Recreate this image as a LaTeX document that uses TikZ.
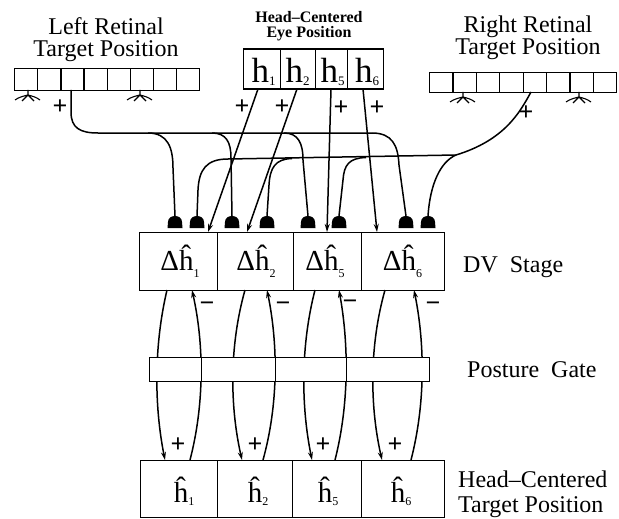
\documentclass[tikz,border=0pt]{standalone}
\usepackage{fontspec}
\setmainfont{Liberation Serif}
\usetikzlibrary{arrows.meta}
\newcommand\lowsub[3]{\raisebox{-#1pt}{\fontsize{#2}{#2}\selectfont #3}}
\tikzset{
  cellbox/.style={draw, line width=1.3pt, inner sep=0pt, anchor=north west},
  wire/.style={line width=1.5pt},
  arr/.style={line width=1.5pt, -{Stealth[length=8pt,width=5pt]}},
  lab/.style={font=\fontsize{24}{22}\selectfont, inner sep=0pt},
  sign/.style={font=\fontsize{26}{26}\selectfont\bfseries, inner sep=0pt},
  term/.pic={\fill (-7.5,13) -- (-7,7) .. controls (-7,-1) and (7,-1) .. (7,7) -- (7.5,13) -- cycle;},
  fan/.pic={\draw[line width=1.1pt] (0,0) -- (0,5)
      (0,5) .. controls (-4,6) and (-9,7) .. (-13,10)
      (0,5) .. controls (-2,7) and (-4,9) .. (-6,11)
      (0,5) .. controls (2,7) and (4,9) .. (6,11)
      (0,5) .. controls (4,6) and (8,7) .. (12,10);}
}
\begin{document}
\begin{tikzpicture}[x=1pt,y=-1pt]
\useasboundingbox (0,0) rectangle (619,519);

% ---------- labels (anchor base = last line) ----------
\node[lab, align=center, anchor=base] (ll) at (106,57) {Left Retinal\\Target Position};
\node[lab, align=center, anchor=base] (rl) at (528,55) {Right Retinal\\Target Position};
\node[font=\fontsize{16}{15.5}\selectfont\bfseries, align=center, anchor=base, inner sep=0pt] (hl) at (309,38) {Head–Centered\\Eye Position};
\node[lab, anchor=base west] (dvl) at (463,272) {DV~~Stage};
\node[lab, anchor=base west] (pgl) at (467,377) {Posture~~Gate};
\node[font=\fontsize{24}{25}\selectfont, align=left, anchor=base west, inner sep=0pt] (hcl) at (458,512) {Head–Centered\\Target Position};

% ---------- retinal arrays ----------
\foreach \i in {0,...,7} {
  \node[cellbox, minimum width=23.125pt, minimum height=22pt] (L\i) at ({14+23.125*\i},68) {};
  \node[cellbox, minimum width=23.375pt, minimum height=20pt] (R\i) at ({429+23.375*\i},72) {};
}
\pic at (28,90) {fan};
\pic at (140,90) {fan};
\pic at (463,92) {fan};
\pic at (579,92) {fan};
\node[sign] (lplus) at (60,107) {+};
\node[sign] (rplus) at (526,113) {+};

% ---------- eye position ----------
\foreach \a/\w/\n/\c/\s in {243/37/e1/263.5/1, 280/35/e2/297.5/2, 315/32/e5/332.5/5, 347/36/e6/367/6} {
  \node[cellbox, minimum width=\w pt, minimum height=40pt] (\n) at (\a,48.5) {};
  \node[font=\fontsize{35}{35}\selectfont, anchor=base, inner sep=0pt] (\n t) at (\c,82) {h\lowsub{3}{13}{\s}};
}

% ---------- DV stage ----------
\foreach \a/\w/\n/\c/\s in {139/78/d1/180/1, 217/76/d2/256/2, 293/68/d5/325/5, 361/83/d6/402.5/6} {
  \node[cellbox, minimum width=\w pt, minimum height=58pt] (\n) at (\a,232) {};
  \node[font=\fontsize{29}{29}\selectfont, anchor=base, inner sep=0pt] (\n t) at (\c,270) {Δĥ\lowsub{7}{12}{\s}};
}

% ---------- bottom: head-centered target ----------
\foreach \a/\w/\n/\c/\s in {140/77/b1/184/1, 217/75/b2/258/2, 292/69/b5/328/5, 361/83/b6/401/6} {
  \node[cellbox, minimum width=\w pt, minimum height=57pt] (\n) at (\a,460) {};
  \node[font=\fontsize{29}{29}\selectfont, anchor=base, inner sep=0pt] (\n t) at (\c,502) {ĥ\lowsub{3}{12}{\s}};
}

% ---------- terminals ----------
\foreach \n/\x in {t1/175, t2/197, t3/232, t4/267, t5/308, t6/339, t7/406, t8/428} {
  \coordinate (\n) at (\x,216);
  \pic at (\x,215) {term};
}

% left retinal trunk and branches
\coordinate (lsrc) at (71,90);
\coordinate (lend) at (372,133);
\draw[wire] (lsrc) -- (71,112) .. controls (71,128) and (80,133) .. (98,133) -- (lend);
\coordinate (lb1) at (148,133);
\coordinate (lb3) at (212,133);
\coordinate (lb5) at (284,133);
\draw[wire] (lb1) .. controls (168,133) and (173,148) .. (173,168) -- (t1);
\draw[wire] (lb3) .. controls (226,133) and (231,142) .. (231,158) -- (t3);
\draw[wire] (lb5) .. controls (298,133) and (303,143) .. (303,160) -- (t5);
\draw[wire] (lend) .. controls (392,133) and (398,145) .. (399,165) -- (t7);

% right retinal trunk and branches
\coordinate (rsrc) at (531,92);
\coordinate (rj) at (456,155);
\coordinate (rend) at (228,159);
\draw[wire] (rsrc) .. controls (520,112) and (505,140) .. (rj) -- (rend);
\coordinate (rb4) at (292,158.5);
\coordinate (rb6) at (366,157.5);
\draw[wire] (rend) .. controls (206,159) and (199,170) .. (198,190) -- (t2);
\draw[wire] (rb4) .. controls (275,159) and (270,168) .. (269,185) -- (t4);
\draw[wire] (rb6) .. controls (349,158) and (344,165) .. (343,180) -- (t6);
\draw[wire] (rj) .. controls (440,162) and (430,185) .. (t8);

% eye position projections
\foreach \n/\sx/\tx in {e1/258/208, e2/297/247, e5/331/327, e6/363/377} {
  \coordinate (\n s) at (\sx,89);
  \coordinate (\n d) at (\tx,232);
  \draw[arr] (\n s) -- (\n d);
}
\node[sign] (p1) at (242,107) {+};
\node[sign] (p2) at (282,107) {+};
\node[sign] (p5) at (341,108) {+};
\node[sign] (p6) at (377,108) {+};

% ---------- DV <-> target loops ----------
\foreach \k/\lt/\lc/\lb/\rt/\rc/\rb in {1/167/154/165/192/204.3/190, 2/245/229.5/242/267/278.3/263, 3/315/300.8/312/339/349/335, 4/385/369.5/382/414/425.2/411} {
  \coordinate (dn\k s) at (\lt,290);
  \coordinate (dn\k e) at (\lb,460);
  \coordinate (up\k s) at (\rb,460);
  \coordinate (up\k e) at (\rt,290);
  \draw[arr] (dn\k s) .. controls (\lc,345) and (\lc,405) .. (dn\k e);
  \draw[arr] (up\k s) .. controls (\rc,405) and (\rc,345) .. (up\k e);
}
\node[sign] (m1) at (207,307) {−};
\node[sign] (m2) at (283,307) {−};
\node[sign] (m5) at (350,305) {−};
\node[sign] (m6) at (433,307) {−};
\node[sign] (q1) at (178,445) {+};
\node[sign] (q2) at (255,445) {+};
\node[sign] (q5) at (323,445) {+};
\node[sign] (q6) at (395,445) {+};

% ---------- posture gate ----------
\foreach \a/\w/\n in {149/52/g1, 201/74/g2, 275/71/g5, 346/83/g6} {
  \node[cellbox, fill=white, minimum width=\w pt, minimum height=24pt] (\n) at (\a,357) {};
}
\end{tikzpicture}
\end{document}
